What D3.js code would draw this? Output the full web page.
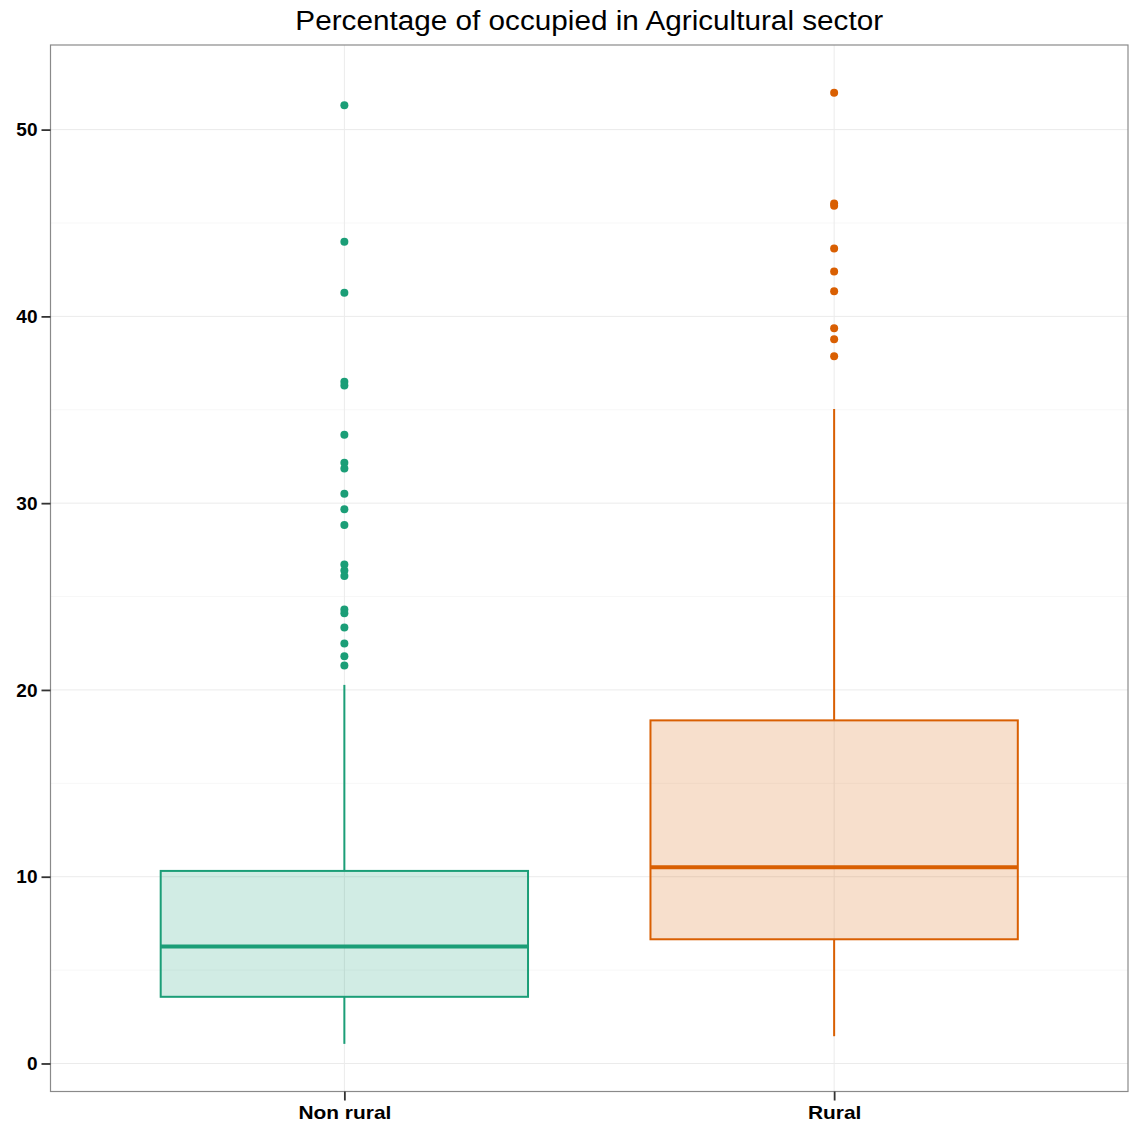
<!DOCTYPE html>
<html>
<head>
<meta charset="utf-8">
<script src="https://cdn.jsdelivr.net/npm/d3@7"></script>
<style>
  body { margin: 0; background: #fff; }
  text { font-family: "Liberation Sans", Arial, sans-serif; }
</style>
</head>
<body>
<svg id="chart" width="1132" height="1124"></svg>
<script>
// Box-plot summaries per group
const categories = ["Non rural", "Rural"];
const colors = ["#1B9E77", "#D95F02"];
const lowerWhisker = [1.05, 1.46];
const q1 = [3.57, 6.65];
const median = [6.26, 10.50];
const q3 = [10.31, 18.37];
const upperWhisker = [20.27, 35.04];

// Outlying observations per group
const outliersNonRural = [51.3, 44.0, 41.26, 36.5, 36.3, 33.66, 32.17, 31.86, 30.5, 29.67,
  28.83, 26.71, 26.4, 26.1, 24.3, 24.1, 23.34, 22.48, 21.81, 21.31];
const outliersRural = [51.98, 46.05, 45.93, 43.63, 42.4, 41.35, 39.36, 38.77, 37.86];
const outliers = [outliersNonRural, outliersRural];

const yTicks = [0, 10, 20, 30, 40, 50];
const yMinorTicks = [5, 15, 25, 35, 45];
const title = "Percentage of occupied in Agricultural sector";

const svg = d3.select("#chart");
const panel = { left: 50.5, right: 1128, top: 45, bottom: 1091.5 };

const y = d3.scaleLinear().domain([-1.5, 54.53]).range([panel.bottom, panel.top]);
// discrete axis with 0.6 units of padding on each side
const x = d3.scaleLinear().domain([0.4, 2.6]).range([panel.left, panel.right]);
const boxHalf = 0.375;

// widen glyphs slightly, keeping the anchor point
function stretch(sel, factor) {
  sel.each(function () {
    const w = this.getComputedTextLength();
    d3.select(this).attr("textLength", w * factor).attr("lengthAdjust", "spacingAndGlyphs");
  });
}

// Grid
const grid = svg.append("g");
grid.selectAll("line.minor").data(yMinorTicks).join("line")
  .attr("x1", panel.left).attr("x2", panel.right)
  .attr("y1", d => y(d)).attr("y2", d => y(d))
  .attr("stroke", "#f7f7f7").attr("stroke-width", 1);
grid.selectAll("line.major").data(yTicks).join("line")
  .attr("x1", panel.left).attr("x2", panel.right)
  .attr("y1", d => y(d)).attr("y2", d => y(d))
  .attr("stroke", "#ebebeb").attr("stroke-width", 1);
grid.selectAll("line.vmajor").data(categories).join("line")
  .attr("x1", (d, i) => x(i + 1)).attr("x2", (d, i) => x(i + 1))
  .attr("y1", panel.top).attr("y2", panel.bottom)
  .attr("stroke", "#ebebeb").attr("stroke-width", 1);

// Boxes
categories.forEach((cat, i) => {
  const g = svg.append("g");
  const cx = x(i + 1);
  const col = colors[i];
  g.append("line")
    .attr("x1", cx).attr("x2", cx)
    .attr("y1", y(q3[i])).attr("y2", y(upperWhisker[i]))
    .attr("stroke", col).attr("stroke-width", 2);
  g.append("line")
    .attr("x1", cx).attr("x2", cx)
    .attr("y1", y(q1[i])).attr("y2", y(lowerWhisker[i]))
    .attr("stroke", col).attr("stroke-width", 2);
  g.append("rect")
    .attr("x", x(i + 1 - boxHalf)).attr("width", x(i + 1 + boxHalf) - x(i + 1 - boxHalf))
    .attr("y", y(q3[i])).attr("height", y(q1[i]) - y(q3[i]))
    .attr("fill", col).attr("fill-opacity", 0.2)
    .attr("stroke", col).attr("stroke-width", 2);
  g.append("line")
    .attr("x1", x(i + 1 - boxHalf)).attr("x2", x(i + 1 + boxHalf))
    .attr("y1", y(median[i])).attr("y2", y(median[i]))
    .attr("stroke", col).attr("stroke-width", 4);
  g.selectAll("circle").data(outliers[i]).join("circle")
    .attr("cx", cx).attr("cy", d => y(d)).attr("r", 4)
    .attr("fill", col);
});

// Panel border
svg.append("rect")
  .attr("x", panel.left).attr("y", panel.top)
  .attr("width", panel.right - panel.left).attr("height", panel.bottom - panel.top)
  .attr("fill", "none").attr("stroke", "#8a8a8a").attr("stroke-width", 1.2);

// Y axis
const yAxis = d3.axisLeft(y).tickValues(yTicks).tickSize(9).tickPadding(4);
const ya = svg.append("g").attr("transform", `translate(${panel.left},0)`).call(yAxis);
ya.select(".domain").remove();
ya.selectAll(".tick line").attr("stroke", "#333").attr("stroke-width", 1.8);
ya.selectAll(".tick text").attr("font-size", 19).attr("font-weight", "bold")
  .attr("fill", "#000").attr("font-family", "Liberation Sans, Arial, sans-serif");

// X axis
const xBand = d3.scaleOrdinal().domain(categories).range(categories.map((c, i) => x(i + 1)));
const xAxis = d3.axisBottom(xBand).tickSize(9).tickPadding(5);
const xa = svg.append("g").attr("transform", `translate(0,${panel.bottom})`).call(xAxis);
xa.select(".domain").remove();
xa.selectAll(".tick line").attr("stroke", "#333").attr("stroke-width", 1.8);
xa.selectAll(".tick text").attr("font-size", 19).attr("font-weight", "bold")
  .attr("fill", "#000").attr("font-family", "Liberation Sans, Arial, sans-serif")
  .call(stretch, 1.1);

// Title
svg.append("text")
  .attr("x", (panel.left + panel.right) / 2).attr("y", 30)
  .attr("text-anchor", "middle").attr("font-size", 27).attr("fill", "#000")
  .text(title)
  .call(stretch, 1.1);
</script>
</body>
</html>
